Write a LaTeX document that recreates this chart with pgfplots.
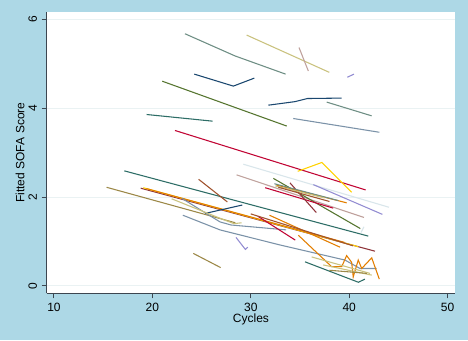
\documentclass[border=0pt]{standalone}
\usepackage{pgfplots}
\pgfplotsset{compat=1.18}
\usepackage{fontspec}
\setmainfont{Liberation Sans}
\definecolor{bgblue}{RGB}{173,216,230}
\definecolor{axcol}{RGB}{60,70,80}
\definecolor{gridc}{RGB}{234,242,243}
\definecolor{snavy}{RGB}{26,71,111}
\definecolor{smaroon}{RGB}{144,53,59}
\definecolor{sforest}{RGB}{85,117,47}
\definecolor{sdkorange}{RGB}{227,126,0}
\definecolor{steal}{RGB}{110,142,132}
\definecolor{scranberry}{RGB}{193,5,52}
\definecolor{slavender}{RGB}{147,141,210}
\definecolor{skhaki}{RGB}{202,194,126}
\definecolor{ssienna}{RGB}{160,82,45}
\definecolor{semidblue}{RGB}{123,146,168}
\definecolor{semerald}{RGB}{45,109,102}
\definecolor{sbrown}{RGB}{156,136,71}
\definecolor{serose}{RGB}{191,161,156}
\definecolor{sgold}{RGB}{255,210,0}
\definecolor{sbluishgray}{RGB}{217,230,235}
\begin{document}
\begin{tikzpicture}
\fill[bgblue] (0,0) rectangle (351pt,255pt);
\useasboundingbox (0,0) rectangle (351pt,255pt);
\begin{axis}[
  at={(35pt,35pt)}, anchor=south west,
  scale only axis, width=306.45pt, height=211pt,
  xmin=9.26, xmax=50.78, ymin=-0.17, ymax=6.17,
  axis background/.style={fill=white},
  axis x line*=bottom, axis y line*=left,
  axis line style={axcol, line width=0.7pt, -},
  xtick={10,20,30,40,50}, ytick={0,2,4,6},
  /pgf/number format/assume math mode=true,
  tick align=outside, major tick length=3.75pt,
  tick style={axcol, line width=0.7pt},
  ymajorgrids, grid style={gridc, line width=0.7pt},
  every tick label/.append style={font=\fontsize{9}{10}\selectfont, text=black},
  yticklabel style={rotate=90, anchor=south},
  xlabel={Cycles}, ylabel={Fitted SOFA Score},
  label style={font=\fontsize{9}{10}\selectfont},
  xlabel style={at={(axis description cs:0.5,-0.0914)}, anchor=center},
  ylabel style={at={(axis description cs:-0.065,0.5)}, anchor=center, rotate=0},
  every axis plot/.append style={line width=0.8pt, mark=none},
  clip=true,
]
\addplot[steal] coordinates {(23.31,5.68) (28.4,5.18) (33.54,4.77)};
\addplot[skhaki] coordinates {(29.58,5.65) (37.98,4.81)};
\addplot[serose] coordinates {(34.90,5.37) (35.85,4.84)};
\addplot[slavender] coordinates {(39.81,4.70) (40.49,4.77)};
\addplot[snavy] coordinates {(24.26,4.77) (28.23,4.50) (30.36,4.68)};
\addplot[sforest] coordinates {(21.01,4.61) (33.65,3.60)};
\addplot[snavy] coordinates {(31.78,4.07) (34.49,4.15) (35.75,4.22) (39.23,4.23)};
\addplot[steal] coordinates {(37.71,4.14) (42.28,3.83)};
\addplot[semerald] coordinates {(19.42,3.86) (26.12,3.71)};
\addplot[semidblue] coordinates {(34.32,3.77) (43.06,3.46)};
\addplot[sbluishgray] coordinates {(29.24,2.74) (44.04,1.77)};
\addplot[scranberry] coordinates {(22.30,3.50) (41.67,2.16)};
\addplot[sgold] coordinates {(34.77,2.58) (37.23,2.78) (40.25,2.11)};
\addplot[slavender] coordinates {(36.36,2.28) (43.37,1.61)};
\addplot[semerald] coordinates {(17.15,2.59) (41.94,1.12)};
\addplot[serose] coordinates {(28.56,2.50) (41.5,1.54)};
\addplot[ssienna] coordinates {(24.70,2.40) (27.62,1.89)};
\addplot[sbrown] coordinates {(15.35,2.22) (28.43,1.42)};
\addplot[smaroon] coordinates {(18.81,2.20) (42.62,0.78)};
\addplot[sgold] coordinates {(19.08,2.21) (40.93,0.88)};
\addplot[sdkorange] coordinates {(19.4,2.19) (39.5,0.98)};
\addplot[snavy] coordinates {(25.35,1.63) (29.14,1.82)};
\addplot[semidblue] coordinates {(23.0,1.97) (26.87,1.44) (28.0,1.37) (33.6,1.26)};
\addplot[skhaki] coordinates {(21.96,1.96) (26.9,1.52) (28.3,1.40) (29.07,1.42)};
\addplot[semidblue] coordinates {(23.1,1.59) (26.87,1.26) (32.97,0.92) (39.57,0.58) (41.1,0.39) (42.8,0.39)};
\addplot[slavender] coordinates {(28.5,1.09) (29.45,0.82) (29.7,0.87)};
\addplot[sbrown] coordinates {(24.16,0.73) (26.94,0.41)};
\addplot[scranberry] coordinates {(30.7,1.57) (34.52,1.03)};
\addplot[sforest] coordinates {(32.3,2.42) (41.13,1.29)};
\addplot[scranberry] coordinates {(31.47,2.21) (38.38,1.75)};
\addplot[smaroon] coordinates {(33.98,2.32) (36.66,1.65)};
\addplot[sdkorange] coordinates {(32.6,2.27) (39.74,1.87)};
\addplot[steal] coordinates {(32.4,2.30) (38.9,1.92)};
\addplot[skhaki] coordinates {(32.5,2.25) (37.5,1.98)};
\addplot[ssienna] coordinates {(32.8,2.22) (38.0,1.90)};
\addplot[sdkorange] coordinates {(31.9,1.59) (39.07,0.87)};
\addplot[ssienna] coordinates {(30.0,1.62) (40.4,0.90)};
\addplot[sdkorange] coordinates {(34.83,1.14) (38.22,0.43) (39.24,0.43) (39.74,0.68) (40.25,0.53) (40.41,0.20) (40.92,0.58) (41.27,0.39) (42.29,0.63) (43.06,0.15)};
\addplot[semerald] coordinates {(35.51,0.54) (40.93,0.08) (41.6,0.15)};
\addplot[skhaki] coordinates {(36.19,0.65) (42.11,0.28)};
\addplot[skhaki] coordinates {(37.37,0.47) (42.29,0.24)};
\addplot[sbrown] coordinates {(38.0,0.35) (41.8,0.28)};
\addplot[sbluishgray] coordinates {(41.2,1.20) (41.5,1.33)};
\end{axis}
\end{tikzpicture}
\end{document}
